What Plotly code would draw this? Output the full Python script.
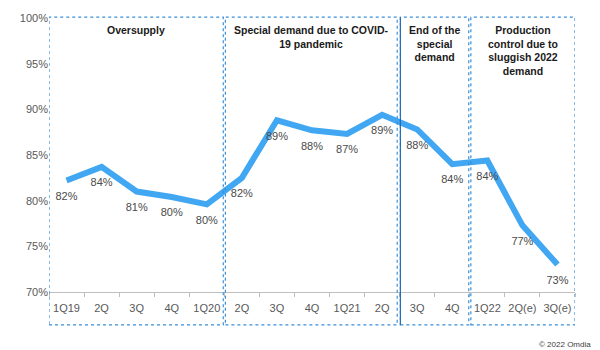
import plotly.graph_objects as go

quarters = ["1Q19", "2Q", "3Q", "4Q", "1Q20", "2Q", "3Q", "4Q", "1Q21", "2Q",
            "3Q", "4Q", "1Q22", "2Q(e)", "3Q(e)"]
utilization = [82.2, 83.7, 81.0, 80.4, 79.6, 82.5, 88.8, 87.7, 87.3, 89.4,
               87.8, 84.0, 84.4, 77.3, 73.0]
value_labels = ["82%", "84%", "81%", "80%", "80%", "82%", "89%", "88%", "87%", "89%",
                "88%", "84%", "84%", "77%", "73%"]
y_ticks = [70, 75, 80, 85, 90, 95, 100]

phase_titles = ["Oversupply",
                "Special demand due to COVID-<br>19 pandemic",
                "End of the<br>special<br>demand",
                "Production<br>control due to<br>sluggish 2022<br>demand"]
phase_bounds = [(-0.5, 4.47), (4.53, 9.43), (9.52, 11.47), (11.53, 14.5)]

x = list(range(len(quarters)))
FONT = "Liberation Sans"

fig = go.Figure()
fig.add_trace(go.Scatter(
    x=x, y=utilization, mode="lines+markers+text",
    line=dict(color="#41A7F2", width=6),
    marker=dict(size=16, opacity=0),
    text=value_labels, textposition="bottom center",
    textfont=dict(family=FONT, size=11, color="#4a4a4a"),
    hoverinfo="skip", showlegend=False,
))

box_color = "#3A8FD8"
for (x0, x1), title in zip(phase_bounds, phase_titles):
    fig.add_shape(type="rect", xref="x", yref="paper", x0=x0, x1=x1,
                  y0=-0.12, y1=1.003, line=dict(color=box_color, width=1.2, dash="dot"),
                  layer="above")
    fig.add_annotation(x=(x0 + x1) / 2, xref="x", y=0.985, yref="paper",
                       yanchor="top", xanchor="center", showarrow=False,
                       text="<b>" + title + "</b>", align="center",
                       font=dict(family=FONT, size=10.5, color="#1a1a1a"))

# solid divider at left edge of the third phase
fig.add_shape(type="line", xref="x", yref="paper",
              x0=phase_bounds[2][0], x1=phase_bounds[2][0], y0=-0.12, y1=1.003,
              line=dict(color="#1F6DB5", width=1.2), layer="above")

fig.add_annotation(x=1, xref="paper", y=-0.19, yref="paper", xanchor="right",
                   yanchor="middle", showarrow=False, text="© 2022 Omdia",
                   xshift=18, font=dict(family=FONT, size=8, color="#404040"))

fig.update_layout(
    width=600, height=350,
    margin=dict(l=49, r=25, t=16, b=58),
    paper_bgcolor="white", plot_bgcolor="white",
    xaxis=dict(range=[-0.5, 14.5], tickmode="array", tickvals=x, ticktext=quarters,
               showgrid=False, zeroline=False, showline=True, linecolor="#BFBFBF",
               linewidth=1, ticks="", ticklabelstandoff=6,
               minor=dict(ticks="outside", tickmode="linear", tick0=0.5, dtick=1,
                          ticklen=4, tickcolor="#BFBFBF", showgrid=False),
               tickfont=dict(family=FONT, size=11, color="#595959")),
    yaxis=dict(range=[70, 100], tickmode="array", tickvals=y_ticks,
               ticktext=[f"{v}%" for v in y_ticks], showgrid=False, zeroline=False,
               showline=False, ticks="",
               tickfont=dict(family=FONT, size=11, color="#595959")),
)

fig.write_html("out.html")
